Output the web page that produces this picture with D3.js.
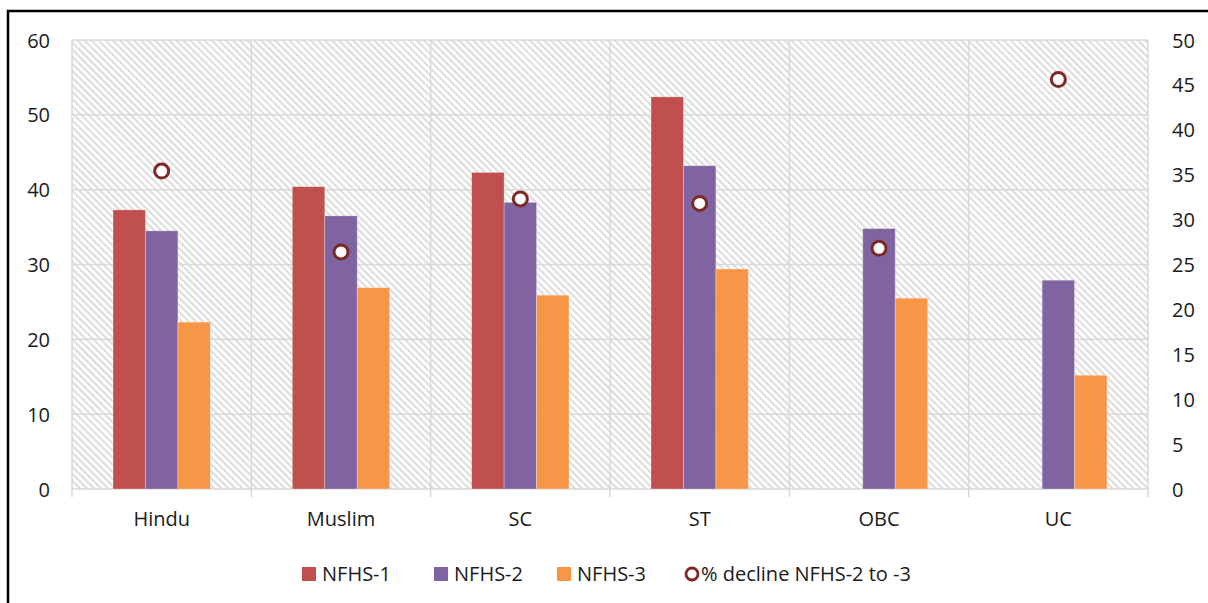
<!DOCTYPE html>
<html lang="en">
<head>
<meta charset="UTF-8">
<title>NFHS chart</title>
<script src="https://d3js.org/d3.v7.min.js"></script>
<style>
  body { margin: 0; background: #fff; }
  text { font-family: "Open Sans", "Noto Sans", sans-serif; fill: #1a1a1a; }
</style>
</head>
<body>
<div id="container"></div>
<script>
const categories = ["Hindu", "Muslim", "SC", "ST", "OBC", "UC"];
const nfhs1 = [37.3, 40.4, 42.3, 52.4, null, null];
const nfhs2 = [34.5, 36.5, 38.3, 43.2, 34.8, 27.9];
const nfhs3 = [22.3, 26.9, 25.9, 29.4, 25.5, 15.2];
const decline = [35.4, 26.4, 32.3, 31.8, 26.8, 45.6];
const leftTicks = [0, 10, 20, 30, 40, 50, 60];
const rightTicks = [0, 5, 10, 15, 20, 25, 30, 35, 40, 45, 50];
const seriesNames = ["NFHS-1", "NFHS-2", "NFHS-3"];
const seriesColors = ["#C0504D", "#8064A2", "#F79646"];
const lineName = "% decline NFHS-2 to -3";

const W = 1208, H = 603;
const plot = {left: 72, right: 1148, top: 40, bottom: 489};
const fs = "20px";

const svg = d3.select("#container").append("svg")
  .attr("width", W).attr("height", H);

// hatch pattern
const defs = svg.append("defs");
const pat = defs.append("pattern")
  .attr("id", "hatch").attr("patternUnits", "userSpaceOnUse")
  .attr("width", 5).attr("height", 5)
  .attr("patternTransform", "rotate(-45)");
pat.append("rect").attr("width", 5).attr("height", 5).attr("fill", "#fff");
pat.append("rect").attr("width", 2.2).attr("height", 5).attr("fill", "#dedede");

// outer frame
svg.append("rect")
  .attr("x", 8).attr("y", 11).attr("width", W + 20).attr("height", H + 20)
  .attr("fill", "none").attr("stroke", "#000").attr("stroke-width", 2.5);

const x = d3.scaleBand().domain(categories).range([plot.left, plot.right]);
const xs = d3.scaleBand().domain(seriesNames)
  .range([0, x.bandwidth()]).paddingOuter(1.265).paddingInner(0);
const y = d3.scaleLinear().domain([0, 60]).range([plot.bottom, plot.top]);
const y2 = d3.scaleLinear().domain([0, 50]).range([plot.bottom, plot.top]);

svg.append("rect")
  .attr("x", plot.left).attr("y", plot.top)
  .attr("width", plot.right - plot.left).attr("height", plot.bottom - plot.top)
  .attr("fill", "url(#hatch)");

// horizontal gridlines
svg.append("g").selectAll("line").data(leftTicks).join("line")
  .attr("x1", plot.left).attr("x2", plot.right)
  .attr("y1", d => y(d)).attr("y2", d => y(d))
  .attr("stroke", "#d9d9d9").attr("stroke-width", 1.5);

// vertical gridlines / category ticks
const bounds = categories.map(c => x(c)).concat([plot.right]);
svg.append("g").selectAll("line").data(bounds).join("line")
  .attr("x1", d => d).attr("x2", d => d)
  .attr("y1", plot.top).attr("y2", plot.bottom + 8)
  .attr("stroke", "#d9d9d9").attr("stroke-width", 1.5);

// left axis
const yAxis = svg.append("g").attr("transform", `translate(${plot.left - 22},0)`)
  .call(d3.axisLeft(y).tickValues(leftTicks).tickSize(0).tickPadding(0));
yAxis.select(".domain").remove();
yAxis.selectAll("text").style("font-size", fs).attr("dy", "0.35em");

// right axis
const y2Axis = svg.append("g").attr("transform", `translate(${plot.right + 24},0)`)
  .call(d3.axisRight(y2).tickValues(rightTicks).tickSize(0).tickPadding(0));
y2Axis.select(".domain").remove();
y2Axis.selectAll("text").style("font-size", fs).attr("dy", "0.35em");

// x axis labels
const xAxis = svg.append("g").attr("transform", `translate(0,${plot.bottom})`)
  .call(d3.axisBottom(x).tickSize(0).tickPadding(23));
xAxis.select(".domain").remove();
xAxis.selectAll("text").style("font-size", fs);

// bars
const seriesData = [nfhs1, nfhs2, nfhs3];
seriesData.forEach((vals, si) => {
  svg.append("g").selectAll("rect")
    .data(categories.map((c, i) => ({c, v: vals[i]})).filter(d => d.v != null))
    .join("rect")
    .attr("x", d => x(d.c) + xs(seriesNames[si]))
    .attr("width", xs.bandwidth())
    .attr("y", d => y(d.v))
    .attr("height", d => y(0) - y(d.v))
    .attr("fill", seriesColors[si])
    .attr("stroke", "rgba(255,255,255,0.35)").attr("stroke-width", 0.8);
});

// markers
svg.append("g").selectAll("circle")
  .data(categories.map((c, i) => ({c, v: decline[i]})))
  .join("circle")
  .attr("cx", d => x(d.c) + x.bandwidth() / 2)
  .attr("cy", d => y2(d.v))
  .attr("r", 7)
  .attr("fill", "#fff").attr("stroke", "#7B2A27").attr("stroke-width", 3);

// legend
const legend = svg.append("g").attr("transform", "translate(0,574)");
const legX = [302, 434, 557, 685];
seriesNames.forEach((n, i) => {
  legend.append("rect").attr("x", legX[i]).attr("y", -7)
    .attr("width", 14).attr("height", 14).attr("fill", seriesColors[i]);
  legend.append("text").attr("x", legX[i] + 20).attr("y", 0).attr("dy", "0.35em")
    .style("font-size", fs).text(n);
});
legend.append("circle").attr("cx", legX[3] + 7).attr("cy", 0).attr("r", 6)
  .attr("fill", "#fff").attr("stroke", "#7B2A27").attr("stroke-width", 2.8);
legend.append("text").attr("x", legX[3] + 16).attr("y", 0).attr("dy", "0.35em")
  .style("font-size", fs).text(lineName);
</script>
</body>
</html>
